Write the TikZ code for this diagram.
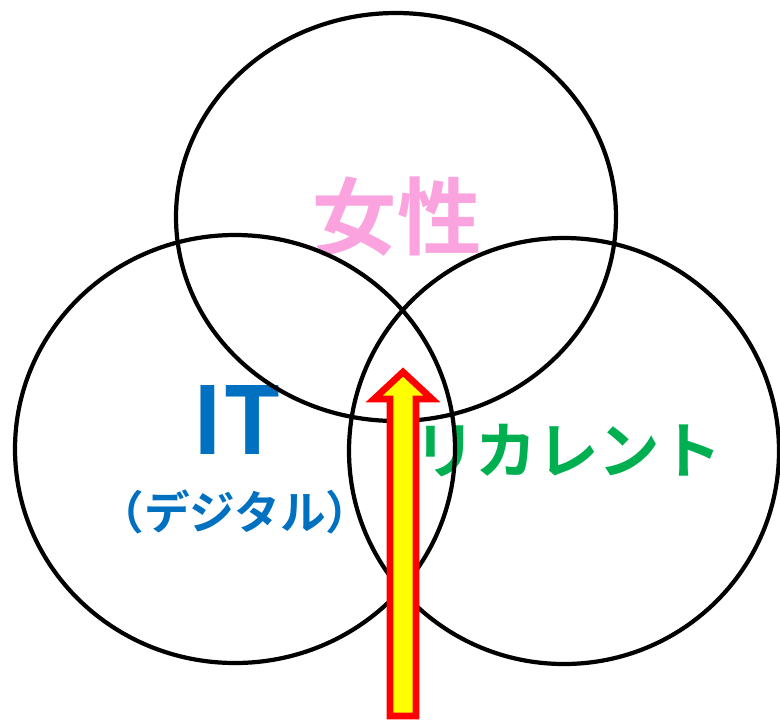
\documentclass[tikz,border=0pt]{standalone}
\usepackage{fontspec}
\newfontfamily\jpfont{Noto Sans CJK JP}[BoldFont={Noto Sans CJK JP Bold}]
\usepackage{tikz}
\usetikzlibrary{positioning}
\definecolor{womanpink}{HTML}{FAA3DF}
\definecolor{itblue}{HTML}{0070C0}
\definecolor{recgreen}{HTML}{00B050}
\definecolor{arrowred}{HTML}{FF0000}
\definecolor{arrowyellow}{HTML}{FFFF00}
\tikzset{
  ring/.style={draw=black,line width=2.4pt},
  upflow/.style={draw=arrowred,fill=arrowyellow,line width=3.8pt,miter limit=10},
  bigtext/.style={font=\jpfont\bfseries,inner sep=0pt,align=center},
}

\begin{document}
\begin{tikzpicture}[x=0.02cm,y=-0.02cm]
  \useasboundingbox (0,0) rectangle (780,721);

  \node[bigtext,text=womanpink,font=\jpfont\bfseries\fontsize{48}{50}\selectfont] (woman) at (397,217) {女性};
  \node[bigtext,text=itblue,font=\jpfont\bfseries\fontsize{53}{55}\selectfont] (it) at (237,420) {IT};
  \node[bigtext,text=itblue,font=\jpfont\bfseries\fontsize{26}{28}\selectfont] (digital) at (235,512) {（デジタル）};
  \node[bigtext,text=recgreen,font=\jpfont\bfseries\fontsize{35}{37}\selectfont] (recurrent) at (568,451) {リカレント};

  \draw[ring] (396,217) ellipse [x radius=220,y radius=204];
  \draw[ring] (235,449) ellipse [x radius=220,y radius=214];
  \draw[ring] (564,451) ellipse [x radius=215,y radius=213];

  % upward arrow
  \draw[upflow] (390,716) -- (390,399) -- (374,399) -- (403,372)
    -- (432,399) -- (416,399) -- (416,716) -- cycle;
\end{tikzpicture}
\end{document}
